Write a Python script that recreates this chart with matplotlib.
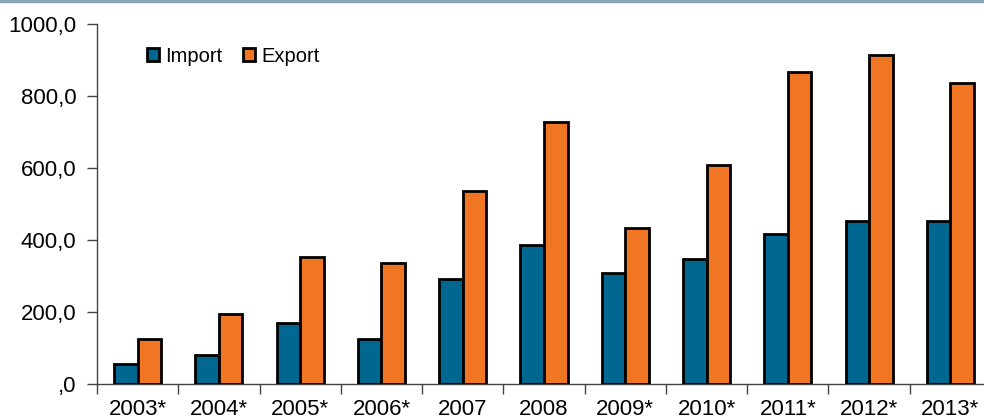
"""Import / export bar chart, 2003-2013."""

import matplotlib
matplotlib.use("Agg")
import matplotlib.pyplot as plt
import numpy as np
from matplotlib.lines import Line2D
from matplotlib.patches import Patch
from matplotlib.ticker import FuncFormatter, FixedLocator

years = ["2003*", "2004*", "2005*", "2006*", "2007", "2008",
         "2009*", "2010*", "2011*", "2012*", "2013*"]
import_vals = [55, 80, 170, 125, 291, 386, 309, 347, 417, 453, 452]
export_vals = [124, 194, 352, 335, 536, 728, 433, 608, 866, 914, 835]

IMPORT_COLOR = "#006890"
EXPORT_COLOR = "#F07624"

plt.rcParams["font.family"] = ["Liberation Sans", "DejaVu Sans"]


def fmt(v, _pos):
    s = f"{v:.1f}".replace(".", ",")
    if s.startswith("0,"):
        s = s[1:]
    return s


fig = plt.figure(figsize=(9.84, 4.19), dpi=100)
ax = fig.add_axes([97 / 984, 1 - 384 / 419, 894 / 984, 360.4 / 419])

# thin banner line along the top edge
fig.add_artist(Line2D([0, 1], [1 - 1.5 / 419] * 2, color="#87A3B6", lw=2.4,
                      transform=fig.transFigure))

x = np.arange(len(years))
w = 0.29
ax.bar(x - w / 2, import_vals, w, color=IMPORT_COLOR, edgecolor="black", lw=2.0,
       zorder=3)
ax.bar(x + w / 2, export_vals, w, color=EXPORT_COLOR, edgecolor="black", lw=2.0,
       zorder=3)

ax.set_xlim(-0.5, len(years) - 0.5)
ax.set_ylim(0, 1000)
ax.yaxis.set_major_locator(FixedLocator(np.arange(0, 1001, 200)))
ax.yaxis.set_major_formatter(FuncFormatter(fmt))

# category labels centred, tick marks on the boundaries
ax.set_xticks(x)
ax.set_xticklabels(years)
ax.set_xticks(np.arange(-0.5, len(years), 1.0), minor=True)
ax.tick_params(axis="x", which="major", length=0, labelsize=16, pad=11)
ax.tick_params(axis="x", which="minor", length=7, width=1, color="#444444",
               direction="out")
ax.tick_params(axis="y", length=7, width=1, labelsize=16, pad=8, color="#444444")

for side in ("top", "right"):
    ax.spines[side].set_visible(False)
ax.spines["left"].set_color("#444444")
ax.spines["bottom"].set_color("#444444")
ax.spines["left"].set_linewidth(1)
ax.spines["bottom"].set_linewidth(1)

handles = [Patch(facecolor=IMPORT_COLOR, edgecolor="black", lw=2.0, label="Import"),
           Patch(facecolor=EXPORT_COLOR, edgecolor="black", lw=2.0, label="Export")]
ax.legend(handles=handles, loc="upper left", bbox_to_anchor=(0.036, 0.986),
          ncol=2, frameon=False, fontsize=14.5, handlelength=0.6,
          handleheight=0.6, handletextpad=0.3, columnspacing=1.0)

fig.savefig("out.png", dpi=100)
